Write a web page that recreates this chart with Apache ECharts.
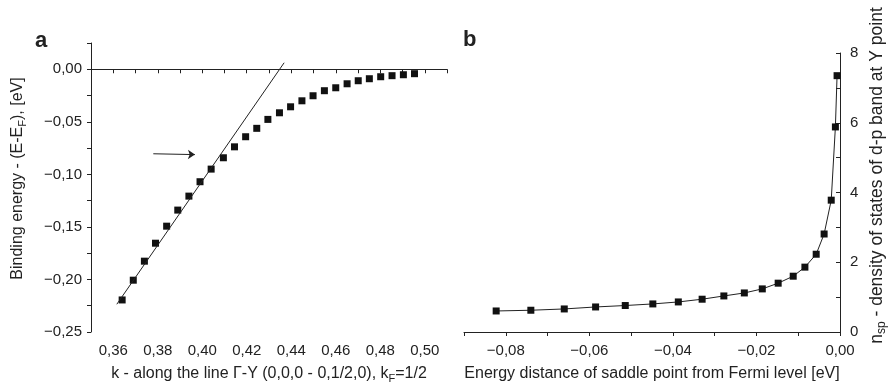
<!DOCTYPE html>
<html>
<head>
<meta charset="utf-8">
<script src="https://cdn.jsdelivr.net/npm/echarts@6/dist/echarts.min.js"></script>
<style>
  html, body { margin: 0; padding: 0; background: #fff; }
  #chart { width: 895px; height: 390px; }
</style>
</head>
<body>
<div id="chart"></div>
<script>
// Panel a: measured band dispersion along Γ-Y
const kValues = [0.364, 0.369, 0.374, 0.379, 0.384, 0.389, 0.394, 0.399, 0.404, 0.4095,
  0.4145, 0.4195, 0.4245, 0.4295, 0.4347, 0.4397, 0.4448, 0.4498, 0.4549, 0.460,
  0.4651, 0.4701, 0.4751, 0.4802, 0.4853, 0.4904, 0.4954];
const bindingEnergy = [-0.2195, -0.2007, -0.1826, -0.1655, -0.1493, -0.134, -0.1207, -0.107, -0.095, -0.0842,
  -0.0738, -0.0642, -0.0562, -0.0477, -0.0414, -0.0357, -0.030, -0.0252, -0.0204, -0.0176,
  -0.0138, -0.0109, -0.0090, -0.0071, -0.0061, -0.0052, -0.0042];
// straight (linear) dispersion line
const linearK = [0.3616, 0.4368];
const linearE = [-0.2236, 0.0062];
// arrow pointing at the departure from linearity
const arrowK = [0.3780, 0.3967];
const arrowE = [-0.0804, -0.0812];

// Panel b: density of states versus saddle point distance from Fermi level
const saddleDistance = [-0.0823, -0.0740, -0.0660, -0.0585, -0.0514, -0.0448, -0.0387, -0.0330,
  -0.0278, -0.0229, -0.0186, -0.0148, -0.0112, -0.0084, -0.0057, -0.0038, -0.0021, -0.0011, -0.0007];
const densityOfStates = [0.603, 0.624, 0.661, 0.718, 0.759, 0.805, 0.862, 0.94,
  1.034, 1.12, 1.236, 1.40, 1.60, 1.86, 2.23, 2.81, 3.78, 5.88, 7.35];

const INK = '#222';
const FONT = '"Liberation Sans", Arial, sans-serif';

function pairs(xs, ys) { return xs.map((x, i) => [x, ys[i]]); }
function comma(v, digits) {
  const r = Math.round(v * Math.pow(10, digits)) / Math.pow(10, digits);
  return r.toFixed(digits).replace('.', ',').replace('-', '\u2212');
}
function everyOther(step) {
  return function (v) {
    const n = Math.round(v / step);
    return n % 2 === 0 ? comma(v, 2) : '';
  };
}

const nameStyle = (size, extra) => Object.assign({
  fontSize: size, lineHeight: 20, color: INK, fontFamily: FONT,
  rich: { sub: { fontSize: Math.round(size * 0.7), lineHeight: 11, padding: [9, 0, 0, 0], color: INK, fontFamily: FONT } }
}, extra || {});

const labelStyle = { fontSize: 15, color: INK, fontFamily: FONT };
const lineStyle = { color: INK, width: 1 };

const option = {
  animation: false,
  backgroundColor: '#fff',
  grid: [
    { left: 91, top: 43, width: 356, bottom: 58, containLabel: false },
    { left: 464, top: 53, width: 376, bottom: 58, containLabel: false }
  ],
  graphic: [
    { type: 'text', left: 35, top: 30, style: { text: 'a', fontSize: 22, fontWeight: 'bold', fill: INK, fontFamily: FONT } },
    { type: 'text', left: 463, top: 29, style: { text: 'b', fontSize: 22, fontWeight: 'bold', fill: INK, fontFamily: FONT } }
  ],
  xAxis: [
    {
      gridIndex: 0, type: 'value', min: 0.35, max: 0.51, interval: 0.01,
      axisLine: { lineStyle: lineStyle },
      axisTick: { length: 4, lineStyle: lineStyle },
      axisLabel: { formatter: everyOther(0.01), margin: 11, ...labelStyle },
      splitLine: { show: false },
      name: 'k - along the line \u0393-Y (0,0,0 - 0,1/2,0), k{sub|F}=1/2',
      nameLocation: 'middle', nameGap: 32,
      nameTextStyle: nameStyle(16)
    },
    {
      gridIndex: 1, type: 'value', min: -0.09, max: 0, interval: 0.01,
      axisLine: { lineStyle: lineStyle },
      axisTick: { length: 4, lineStyle: lineStyle },
      axisLabel: { formatter: everyOther(0.01), margin: 11, ...labelStyle },
      splitLine: { show: false },
      name: 'Energy distance of saddle point from Fermi level [eV]',
      nameLocation: 'middle', nameGap: 32,
      nameTextStyle: nameStyle(16)
    }
  ],
  yAxis: [
    {
      gridIndex: 0, type: 'value', min: -0.25, max: 0.025, interval: 0.025,
      axisLine: { show: true, lineStyle: lineStyle },
      axisTick: { show: true, length: 4, lineStyle: lineStyle },
      axisLabel: {
        formatter: function (v) { const n = Math.round(v / 0.025); return n % 2 === 0 ? comma(v, 2) : ''; },
        margin: 9, ...labelStyle
      },
      splitLine: { show: false },
      name: 'Binding energy - (E-E{sub|F}), [eV]',
      nameLocation: 'middle', nameGap: 63, nameRotate: 90,
      nameTextStyle: nameStyle(16, { padding: [0, 0, 0, 18] })
    },
    {
      gridIndex: 1, type: 'value', position: 'right', min: 0, max: 8, interval: 1,
      axisLine: { show: true, lineStyle: lineStyle },
      axisTick: { show: true, inside: true, length: 4, lineStyle: lineStyle },
      axisLabel: {
        formatter: function (v) { return Math.round(v) % 2 === 0 ? String(Math.round(v)) : ''; },
        margin: 10, ...labelStyle
      },
      splitLine: { show: false },
      name: 'n{sub|sp} - density of states of d-p band at Y point',
      nameLocation: 'middle', nameGap: 27, nameRotate: 90,
      nameTextStyle: nameStyle(17.5, { padding: [0, 0, 0, 34] })
    }
  ],
  series: [
    {
      type: 'scatter', xAxisIndex: 0, yAxisIndex: 0,
      data: pairs(kValues, bindingEnergy),
      symbol: 'rect', symbolSize: 7,
      itemStyle: { color: '#111', opacity: 1 },
      silent: true
    },
    {
      type: 'line', xAxisIndex: 0, yAxisIndex: 0,
      data: pairs(linearK, linearE),
      showSymbol: false, symbol: 'none',
      lineStyle: { color: INK, width: 1 },
      silent: true,
      markLine: {
        silent: true,
        symbol: ['none', 'arrow'],
        symbolSize: 7,
        label: { show: false },
        lineStyle: { color: INK, width: 1, type: 'solid' },
        emphasis: { disabled: true },
        data: [[{ coord: [arrowK[0], arrowE[0]] }, { coord: [arrowK[1], arrowE[1]] }]]
      }
    },
    {
      type: 'line', xAxisIndex: 1, yAxisIndex: 1,
      data: pairs(saddleDistance, densityOfStates),
      symbol: 'rect', symbolSize: 7,
      itemStyle: { color: '#111', opacity: 1 },
      lineStyle: { color: INK, width: 1 },
      silent: true
    }
  ]
};

const chart = echarts.init(document.getElementById('chart'), null, { renderer: 'canvas' });
chart.setOption(option);
</script>
</body>
</html>
